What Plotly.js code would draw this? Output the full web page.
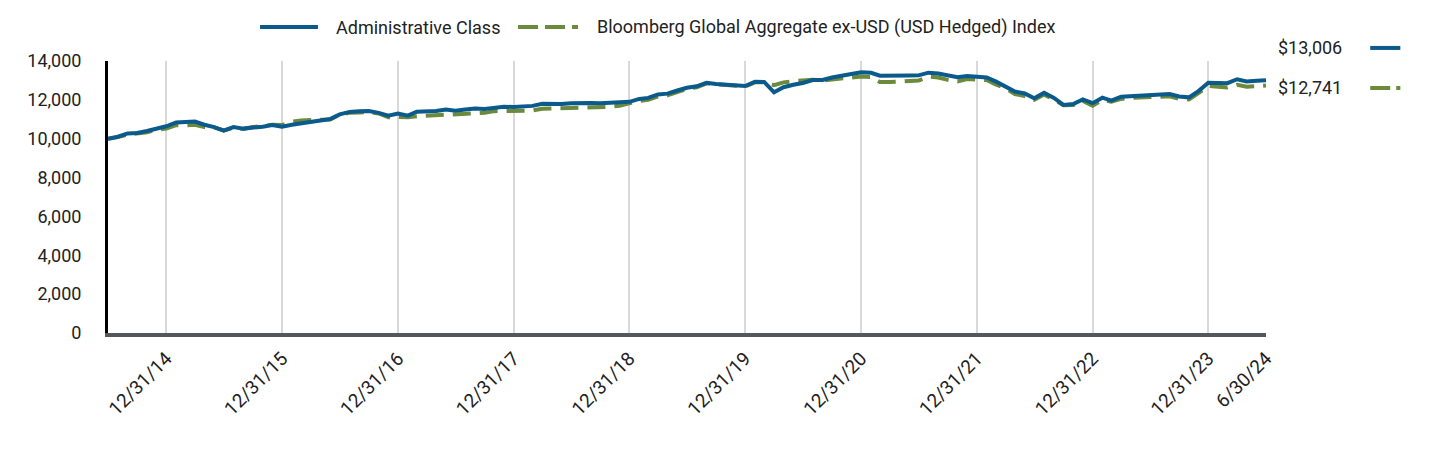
<!DOCTYPE html>
<html>
<head>
<meta charset="utf-8">
<script src="https://cdn.plot.ly/plotly-3.0.1.min.js"></script>
<style>
  html, body { margin: 0; padding: 0; background: #fff; }
  #chart { width: 1440px; height: 456px; }
</style>
</head>
<body>
<div id="chart"></div>
<script>
// Monthly values, 6/30/14 through 6/30/24 (growth of $10,000)
const fundName = "Administrative Class";
const indexName = "Bloomberg Global Aggregate ex-USD (USD Hedged) Index";

const fundValues = [
  10000, 10100, 10270, 10300, 10400, 10520, 10640, 10840, 10870, 10880, 10720, 10600,
  10420, 10600, 10520, 10560, 10620, 10700, 10620, 10720, 10790, 10900, 10960, 11010,
  11250, 11380, 11410, 11430, 11330, 11190, 11300, 11190, 11390, 11400, 11430, 11500,
  11440, 11500, 11560, 11530, 11600, 11650, 11630, 11650, 11690, 11800, 11790, 11790,
  11830, 11860, 11840, 11820, 11840, 11860, 11900, 12050, 12100, 12280, 12320, 12480,
  12620, 12700, 12880, 12820, 12770, 12740, 12710, 12930, 12920, 12390, 12650, 12780,
  12870, 13020, 13020, 13150, 13220, 13330, 13415, 13390, 13240, 13260, 13250, 13250,
  13260, 13400, 13360, 13250, 13160, 13230, 13180, 13150, 12950, 12700, 12430, 12330,
  12080, 12360, 12100, 11740, 11790, 12020, 11830, 12110, 11960, 12160, 12190, 12210,
  12230, 12260, 12300, 12170, 12130, 12450, 12880, 12870, 12860, 13060, 12950, 12980,
  13006
];

const indexValues = [
  10000, 10080, 10220, 10250, 10330, 10460, 10520, 10700, 10680, 10720, 10600, 10580,
  10430, 10560, 10500, 10600, 10640, 10720, 10700, 10880, 10940, 10950, 10970, 10990,
  11250, 11330, 11350, 11380, 11300, 11100, 11120, 11100, 11160, 11180, 11200, 11250,
  11250, 11280, 11300, 11330, 11420, 11430, 11430, 11400, 11450, 11540, 11550, 11570,
  11600, 11590, 11610, 11600, 11640, 11700, 11850, 11950, 12000, 12180, 12230, 12420,
  12560, 12650, 12850, 12800, 12750, 12720, 12690, 12900, 12900, 12760, 12900, 12960,
  13000, 13030, 13000, 13060, 13080, 13150, 13200, 13180, 12920, 12920, 12960, 12970,
  12990, 13200, 13150, 13030, 12950, 13070, 13040, 13020, 12800, 12600, 12300, 12200,
  12000, 12270, 12020, 11720, 11740, 11950, 11700, 12000, 11900, 12050, 12100, 12110,
  12120, 12150, 12180, 12050, 12020, 12350, 12720, 12680, 12640, 12780, 12680, 12700,
  12741
];

const tickDates = ["2014-12-31","2015-12-31","2016-12-31","2017-12-31","2018-12-31",
                   "2019-12-31","2020-12-31","2021-12-31","2022-12-31","2023-12-31","2024-06-30"];
const tickLabels = ["12/31/14","12/31/15","12/31/16","12/31/17","12/31/18",
                    "12/31/19","12/31/20","12/31/21","12/31/22","12/31/23","6/30/24"];
const yTicks = [0, 2000, 4000, 6000, 8000, 10000, 12000, 14000];
const endLabels = ["$13,006", "$12,741"];

// month-end dates starting 6/30/2014
function pad(n){ return (n<10?'0':'')+n; }
const dates = fundValues.map((_, i) => {
  const d = new Date(Date.UTC(2014, 6 + i, 0));
  return d.getUTCFullYear() + '-' + pad(d.getUTCMonth()+1) + '-' + pad(d.getUTCDate());
});

const BLUE = '#0b5a8c';
const GREEN = '#6b8a3c';
const TXT = '#222222';
const FONT = 'Roboto, "Liberation Sans", sans-serif';
const FS = 18;

const traces = [
  {
    x: dates, y: indexValues, type: 'scatter', mode: 'lines', name: indexName,
    line: { color: GREEN, width: 4, dash: '18px,9px' }, hoverinfo: 'skip'
  },
  {
    x: dates, y: fundValues, type: 'scatter', mode: 'lines', name: fundName,
    line: { color: BLUE, width: 4 }, hoverinfo: 'skip'
  }
];

function txt(x, y, s) {
  return { xref: 'paper', yref: 'paper', x: x, y: y, xanchor: 'left', yanchor: 'middle',
           text: s, showarrow: false, font: { family: FONT, size: FS, color: TXT } };
}
function seg(x0, x1, y, color, dash) {
  const ln = { color: color, width: 4 };
  if (dash) ln.dash = dash;
  return { type: 'line', xref: 'paper', yref: 'paper', x0: x0, x1: x1, y0: y, y1: y, line: ln };
}

const layout = {
  width: 1440, height: 456,
  margin: { l: 108, r: 174, t: 61, b: 123 },
  paper_bgcolor: '#fff', plot_bgcolor: '#fff',
  font: { family: FONT, size: FS, color: TXT },
  showlegend: false,
  xaxis: {
    type: 'date',
    range: ['2014-06-30', '2024-06-30'],
    tickmode: 'array', tickvals: tickDates, ticktext: tickLabels,
    tickangle: -45, showgrid: true, gridcolor: '#d9d9d9', gridwidth: 2,
    showline: true, linecolor: '#55575a', linewidth: 4,
    ticks: '', zeroline: false, ticklabelstandoff: 3,
    tickfont: { family: FONT, size: 19, color: TXT }
  },
  yaxis: {
    range: [0, 14000], tickmode: 'array', tickvals: yTicks,
    tickformat: ',d', showgrid: false, zeroline: false,
    showline: true, linecolor: '#000', linewidth: 3,
    ticks: '', ticklabelstandoff: 20,
    tickfont: { family: FONT, size: FS, color: TXT }
  },
  annotations: [
    txt(0.1952, 1.125, fundName),
    txt(0.4205, 1.125, indexName),
    txt(1.0086, 1.048, endLabels[0]),
    txt(1.0086, 0.901, endLabels[1])
  ],
  shapes: [
    seg(0.1313, 0.1813, 1.125, BLUE),
    seg(0.3541, 0.4059, 1.125, GREEN, '20px,7px'),
    seg(1.090, 1.116, 1.048, BLUE),
    seg(1.090, 1.116, 0.901, GREEN, '20px,6px')
  ]
};

Plotly.newPlot('chart', traces, layout, { displayModeBar: false, staticPlot: true });
</script>
</body>
</html>
